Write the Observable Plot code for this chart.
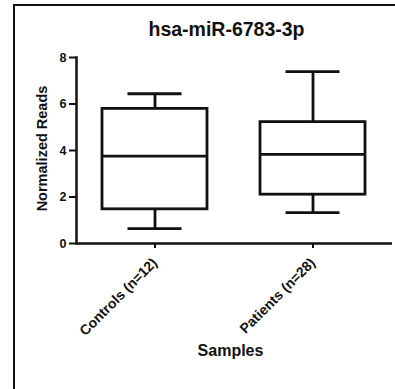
<!DOCTYPE html>
<html>
<head>
<meta charset="utf-8">
<script src="https://cdn.jsdelivr.net/npm/d3@7"></script>
<script src="https://cdn.jsdelivr.net/npm/@observablehq/plot@0.6"></script>
<style>
  html, body { margin: 0; padding: 0; background: #fff; }
  #wrap { position: relative; width: 395px; height: 389px; overflow: hidden; }
  #border { position: absolute; left: 13px; top: 4px; width: 400px; height: 400px;
            border-left: 2.5px solid #111; border-top: 2px solid #111; pointer-events: none; }
  svg { font-family: "Liberation Sans", Arial, sans-serif; }
  svg text { font-weight: bold; fill: #111; }
  svg g[aria-label="y-axis tick label"] { font-size: 12.5px; }
  svg g[aria-label="y-axis tick label"] text { font-size: 12.5px; }
</style>
</head>
<body>
<div id="wrap"><div id="border"></div></div>
<script>
const title = "hsa-miR-6783-3p";
const xLabel = "Samples";
const yLabel = "Normalized Reads";
const groups = ["Controls (n=12)", "Patients (n=28)"];
const whiskerLow = [0.64, 1.33];
const q1 = [1.47, 2.10];
const median = [3.76, 3.83];
const q3 = [5.79, 5.22];
const whiskerHigh = [6.44, 7.39];
const yTicks = [0, 2, 4, 6, 8];

const data = groups.map((g, i) => ({
  group: g, lo: whiskerLow[i], q1: q1[i], med: median[i], q3: q3[i], hi: whiskerHigh[i]
}));

const sw = 2.8;
const chart = Plot.plot({
  width: 395,
  height: 389,
  marginLeft: 76,
  marginRight: 3,
  marginTop: 57,
  marginBottom: 146,
  style: { fontFamily: "'Liberation Sans', Arial, sans-serif", background: "transparent", color: "#111" },
  x: { type: "band", domain: groups, paddingInner: 0.335, paddingOuter: 0.1675, label: null },
  y: { domain: [0, 8], label: null },
  marks: [
    Plot.ruleX(data, { x: "group", y1: "q3", y2: "hi", stroke: "#111", strokeWidth: sw }),
    Plot.ruleX(data, { x: "group", y1: "lo", y2: "q1", stroke: "#111", strokeWidth: sw }),
    Plot.tickY(data, { x: "group", y: "hi", stroke: "#111", strokeWidth: sw, insetLeft: 25.5, insetRight: 25.5 }),
    Plot.tickY(data, { x: "group", y: "lo", stroke: "#111", strokeWidth: sw, insetLeft: 25.5, insetRight: 25.5 }),
    Plot.rectY(data, { x: "group", y1: "q1", y2: "q3", fill: "white", stroke: "#111", strokeWidth: sw }),
    Plot.tickY(data, { x: "group", y: "med", stroke: "#111", strokeWidth: sw }),
    Plot.frame({ anchor: "left", stroke: "#111", strokeWidth: 2.5 }),
    Plot.ruleY([0], { stroke: "#111", strokeWidth: 2.5 }),
    Plot.axisY({ ticks: yTicks, tickSize: 7, tickPadding: 3, fontSize: 12.5, fontWeight: "bold", strokeWidth: 2, label: null }),
    Plot.axisX({ tickSize: 5, tickRotate: -45, tickPadding: 12, fontSize: 14, fontWeight: "bold", strokeWidth: 2, label: null }),
    Plot.text([title], { frameAnchor: "top", lineAnchor: "middle", textAnchor: "middle", dx: -8, dy: -28, fontSize: 19.5, fontWeight: "bold", fill: "#111" }),
    Plot.text([yLabel], { frameAnchor: "left", lineAnchor: "middle", textAnchor: "middle", rotate: -90, dx: -34, dy: -2, fontSize: 14.5, fontWeight: "bold", fill: "#111" }),
    Plot.text([xLabel], { frameAnchor: "bottom", lineAnchor: "middle", textAnchor: "middle", dx: -4, dy: 107, fontSize: 16, fontWeight: "bold", fill: "#111" })
  ]
});
chart.style.position = "absolute";
chart.style.left = "0px";
chart.style.top = "0px";
document.getElementById("wrap").prepend(chart);
</script>
</body>
</html>
